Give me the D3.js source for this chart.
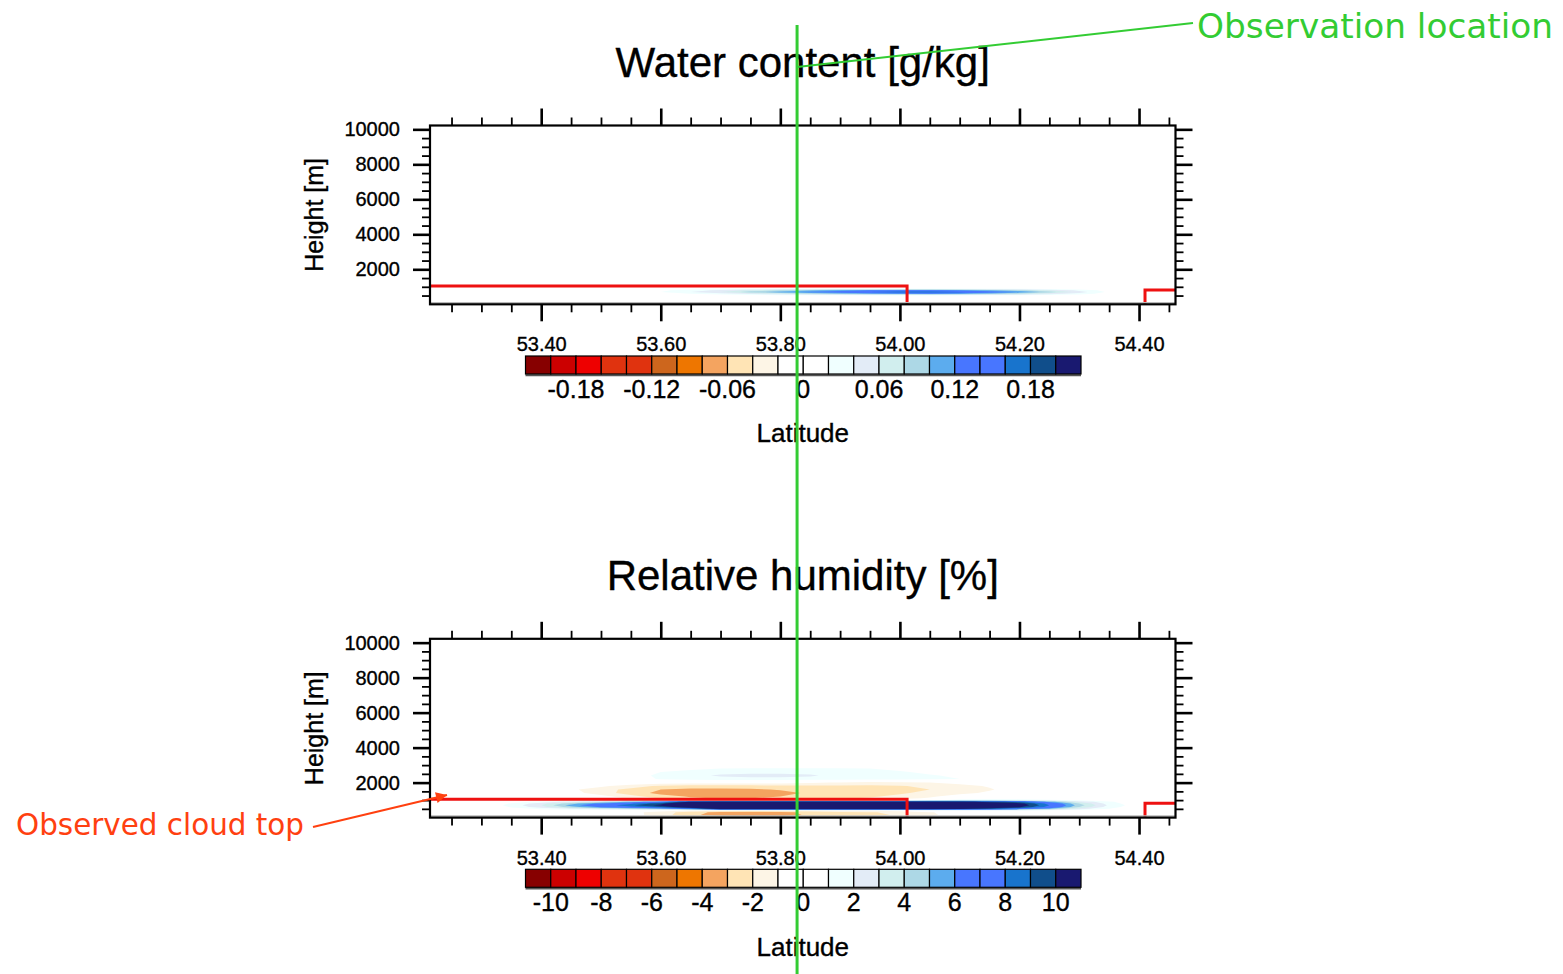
<!DOCTYPE html>
<html>
<head>
<meta charset="utf-8">
<script src="https://cdn.jsdelivr.net/npm/d3@7"></script>
<style>
body { margin: 0; background: #fff; }
svg text { font-family: "Liberation Sans", Arial, Helvetica, sans-serif; fill: #000; }
svg text.ink { stroke: #000; stroke-width: 0.35px; }
</style>
</head>
<body>
<svg id="chart"></svg>
<script>
// grid of the cross section: latitude columns, height rows (m)
const lats = [53.30, 53.35, 53.40, 53.45, 53.50, 53.55, 53.60, 53.65, 53.70, 53.75, 53.80, 53.85,
              53.90, 53.95, 54.00, 54.05, 54.10, 54.15, 54.20, 54.25, 54.30, 54.35, 54.40, 54.45];
const heights = [0, 150, 300, 400, 500, 600, 700, 800, 900, 1000, 1100, 1200,
                 1400, 1600, 1800, 2000, 2200, 2400, 2600, 2800, 3000];

// water content difference [g/kg], one row per height
const waterContent = [
  [0,0,0,0,0,0,0,0,0,0,0,0,0,0,0,0,0,0,0,0,0,0,0,0],
  [0,0,0,0,0,0,0,0,0,0,0,0,0,0,0,0,0,0,0,0,0,0,0,0],
  [0,0,0,0,0,0,0,0,0,0,0,0,0,0,0,0,0,0,0,0,0,0,0,0],
  [0,0,0,0,0,0,0,0,0,0,0,0,0,0,0,0,0,0,0,0,0,0,0,0],
  [0,0,0,0,0,0,0,0.002,0.004,0.006,0.008,0.01,0.012,0.014,0.015,0.015,0.014,0.012,0.01,0.006,0.004,0,0,0],
  [0,0,0,0,0,0,0.01,0.02,0.03,0.045,0.06,0.075,0.09,0.1,0.11,0.115,0.105,0.09,0.075,0.05,0.03,0.01,0,0],
  [0,0,0,0,0,0,0.02,0.04,0.06,0.09,0.11,0.125,0.14,0.16,0.175,0.175,0.165,0.14,0.12,0.09,0.05,0.015,0,0],
  [0,0,0,0,0,0,0.015,0.03,0.045,0.065,0.08,0.095,0.11,0.12,0.125,0.125,0.115,0.1,0.085,0.06,0.035,0.01,0,0],
  [0,0,0,0,0,0,0,0.003,0.005,0.007,0.009,0.011,0.013,0.014,0.015,0.015,0.014,0.012,0.01,0.007,0.004,0,0,0],
  [0,0,0,0,0,0,0,0,0,0,0,0,0,0,0,0,0,0,0,0,0,0,0,0],
  [0,0,0,0,0,0,0,0,0,0,0,0,0,0,0,0,0,0,0,0,0,0,0,0],
  [0,0,0,0,0,0,0,0,0,0,0,0,0,0,0,0,0,0,0,0,0,0,0,0],
  [0,0,0,0,0,0,0,0,0,0,0,0,0,0,0,0,0,0,0,0,0,0,0,0],
  [0,0,0,0,0,0,0,0,0,0,0,0,0,0,0,0,0,0,0,0,0,0,0,0],
  [0,0,0,0,0,0,0,0,0,0,0,0,0,0,0,0,0,0,0,0,0,0,0,0],
  [0,0,0,0,0,0,0,0,0,0,0,0,0,0,0,0,0,0,0,0,0,0,0,0],
  [0,0,0,0,0,0,0,0,0,0,0,0,0,0,0,0,0,0,0,0,0,0,0,0],
  [0,0,0,0,0,0,0,0,0,0,0,0,0,0,0,0,0,0,0,0,0,0,0,0],
  [0,0,0,0,0,0,0,0,0,0,0,0,0,0,0,0,0,0,0,0,0,0,0,0],
  [0,0,0,0,0,0,0,0,0,0,0,0,0,0,0,0,0,0,0,0,0,0,0,0],
  [0,0,0,0,0,0,0,0,0,0,0,0,0,0,0,0,0,0,0,0,0,0,0,0]
];

// relative humidity difference [%], one row per height
const relHumidity = [
  [0,0,0,0,0,-0.3,-0.8,-1.6,-2.2,-2.4,-2.4,-2.1,-1.8,-1.5,-1.1,-0.6,-0.2,0,0,0,0,0,0,0],
  [0,0,0,0,0,-0.6,-1.5,-2.8,-3.4,-3.6,-3.5,-2.8,-2.4,-2.2,-1.9,-1.2,-0.5,0,0,0,0,0,0,0],
  [0,0,0,0,-0.2,-0.7,-1.4,-2.6,-3.3,-3.4,-3.3,-2.7,-2.3,-2.1,-1.7,-1.1,-0.4,0,0,0,0,0,0,0],
  [0,0,0,0,0,-0.2,-0.5,-1.0,-1.4,-1.5,-1.4,-1.1,-0.9,-0.8,-0.6,-0.3,0,0.2,0.2,0.1,0,0,0,0],
  [0,0.5,1.2,2,2.8,3.5,4.5,7,11,11.5,11.5,11.5,11.5,11.5,11.5,11,10.5,9,7,5,2.5,1,0,0],
  [0,1.1,2.6,4.5,6.2,7.5,9,11.5,13,13,13,13,13,13,13,13,12.5,11.5,10.2,7.5,4,1.5,0.2,0],
  [0,1.4,3,5.5,7.2,8.8,10.4,12.5,14,14,14,14,14,14,14,14,13.5,12.5,11,8,4.5,1.8,0.3,0],
  [0,1.1,2.6,4.6,6.3,7.8,9.6,12,13,13,13,13,13,13,13,13,12.5,11.5,10.5,7.5,4,1.5,0.2,0],
  [0,0.5,1.3,2.5,3.8,5.2,7,10.2,11,11,11,11,11,11,11,11,10.5,9.5,8.5,5.5,2.8,1.2,0,0],
  [0,0,0.2,0.4,0.3,-0.3,-0.8,-1.2,-1.4,-1.4,-1.2,-1,-0.8,-0.6,-0.3,0.3,1.5,1.6,1.5,1.2,0.8,0.3,0,0],
  [0,0,0,0,-0.3,-1.2,-2.1,-2.8,-3.1,-3.0,-2.8,-2.4,-2.1,-1.9,-1.5,-0.8,0.4,0.6,0.6,0.4,0.2,0,0,0],
  [0,0,0,0,-0.6,-1.6,-2.6,-3.1,-3.3,-3.2,-3.0,-2.6,-2.3,-2.1,-1.8,-1.2,-0.4,0.3,0.3,0.2,0,0,0,0],
  [0,0,0,-0.6,-1.5,-2.5,-3.3,-3.8,-3.9,-3.8,-3.4,-2.8,-2.5,-2.3,-2.1,-1.8,-1.3,-0.8,-0.3,0,0,0,0,0],
  [0,0,0,-0.8,-1.6,-2.3,-3,-3.3,-3.3,-3.2,-2.9,-2.6,-2.4,-2.3,-2.2,-2.0,-1.6,-1.1,-0.5,0,0,0,0,0],
  [0,0,0,0,-0.8,-1.5,-2.2,-2.4,-2.4,-2.4,-2.3,-2.2,-2.2,-2.2,-2.1,-1.7,-1.3,-0.9,-0.4,0,0,0,0,0],
  [0,0,0,0,0,-0.2,-0.4,-0.5,-0.6,-0.6,-0.6,-0.8,-1.1,-1.4,-1.3,-1,-0.7,-0.4,0,0,0,0,0,0],
  [0,0,0,0,0,0.5,1.1,1.3,1.5,1.6,1.6,1.5,1.4,1.3,1.2,1.1,1.0,0.6,0.3,0,0,0,0,0],
  [0,0,0,0,0,0.6,1.2,1.6,2.2,2.4,2.4,2.2,1.5,1.3,1.2,1.1,0.8,0.4,0,0,0,0,0,0],
  [0,0,0,0,0,0.4,1,1.3,1.5,1.6,1.6,1.5,1.4,1.3,1.1,0.8,0.5,0,0,0,0,0,0,0],
  [0,0,0,0,0,0,0.4,0.8,1,1.1,1.1,1.1,1.1,1.0,0.8,0.5,0,0,0,0,0,0,0,0],
  [0,0,0,0,0,0,0,0,0,0,0,0,0,0,0,0,0,0,0,0,0,0,0,0]
];

// contour levels and label bar labels
const wcLevels = [-0.20,-0.18,-0.16,-0.14,-0.12,-0.10,-0.08,-0.06,-0.04,-0.02,0,
                  0.02,0.04,0.06,0.08,0.10,0.12,0.14,0.16,0.18,0.20];
const rhLevels = [-10,-9,-8,-7,-6,-5,-4,-3,-2,-1,0,1,2,3,4,5,6,7,8,9,10];
const wcTickLabels = ["-0.18", "-0.12", "-0.06", "0", "0.06", "0.12", "0.18"];
const rhTickLabels = ["-10", "-8", "-6", "-4", "-2", "0", "2", "4", "6", "8", "10"];
const levelColors = ["#870000", "#cc0000", "#ee0000", "#e0330f", "#e0330f", "#cd661d", "#ee7600",
                     "#f4a460", "#ffe4b5", "#fdf5e6", "#ffffff", "#ffffff", "#f0ffff", "#e3ecf7",
                     "#d1eeee", "#add8e6", "#5cacee", "#4876ff", "#4876ff", "#1874cd", "#104e8b", "#191970"];

// axis ticks
const latMajorTicks = [53.40, 53.60, 53.80, 54.00, 54.20, 54.40];
const latMinorTicks = [53.25, 53.30, 53.35, 53.45, 53.50, 53.55, 53.65, 53.70, 53.75, 53.85,
                       53.90, 53.95, 54.05, 54.10, 54.15, 54.25, 54.30, 54.35, 54.45];
const heightMajorTicks = [2000, 4000, 6000, 8000, 10000];
const heightMinorTicks = [500, 1000, 1500, 2500, 3000, 3500, 4500, 5000, 5500, 6500, 7000,
                          7500, 8500, 9000, 9500];

// observed cloud top (null = gap) and observation site
const cloudTopLat = [53.214, 54.012, 54.012, null, 54.41, 54.41, 54.461];
const cloudTopHeight = [1050, 1050, 0, null, 0, 820, 820];
const obsLat = 53.828;

const width = 1563;
const height = 974;
const plotHeight = 178.8;
const green = "#33cc33";
const orange = "#ff4010";

const svg = d3.select("#chart")
    .attr("width", width)
    .attr("height", height);

const defs = svg.append("defs");

const x = d3.scaleLinear()
    .domain([53.214, 54.461])
    .range([430, 1175.5]);

const plotLeft = x.range()[0];
const plotWidth = x.range()[1] - x.range()[0];
const plotCenter = plotLeft + plotWidth / 2;

// grid index -> latitude / height
const colIndex = d3.scaleLinear().domain(d3.range(lats.length)).range(lats);
const rowIndex = d3.scaleLinear().domain(d3.range(heights.length)).range(heights);

const panels = [
    { title: "Water content [g/kg]", values: waterContent, levels: wcLevels, labels: wcTickLabels, top: 125.5 },
    { title: "Relative humidity [%]", values: relHumidity, levels: rhLevels, labels: rhTickLabels, top: 638.8 }
];

function styleAxis(sel, width) {
    sel.select(".domain").remove();
    sel.selectAll("line").attr("stroke", "#000").attr("stroke-width", width);
    sel.attr("font-family", null).attr("font-size", null);
}

function drawPanel(p, i) {
    const top = p.top;
    const bottom = top + plotHeight;
    const y = d3.scaleLinear().domain([0, 10220]).range([bottom, top]);
    const g = svg.append("g");

    defs.append("clipPath")
        .attr("id", "clip" + i)
        .append("rect")
        .attr("x", plotLeft)
        .attr("y", top)
        .attr("width", plotWidth)
        .attr("height", plotHeight);

    // filled contours
    const field = g.append("g").attr("clip-path", "url(#clip" + i + ")");
    const flat = p.values.flat();
    const project = d3.geoTransform({
        point: function(px, py) {
            this.stream.point(x(colIndex(px - 0.5)), y(rowIndex(py - 0.5)));
        }
    });
    const path = d3.geoPath(project);
    const contours = d3.contours().size([lats.length, heights.length]);

    const negIdx = p.levels.map((l, k) => k).filter(k => p.levels[k] < 0).reverse();
    contours.thresholds(negIdx.map(k => -p.levels[k]))(flat.map(v => -v))
        .forEach((c, m) => {
            field.append("path")
                .attr("d", path(c))
                .attr("fill", levelColors[negIdx[m]]);
        });

    const posIdx = p.levels.map((l, k) => k).filter(k => p.levels[k] > 0);
    contours.thresholds(posIdx.map(k => p.levels[k]))(flat)
        .forEach((c, m) => {
            field.append("path")
                .attr("d", path(c))
                .attr("fill", levelColors[posIdx[m] + 1]);
        });

    // observed cloud top
    const cloudLine = d3.line()
        .defined(d => d[0] != null)
        .x(d => x(d[0]))
        .y(d => y(d[1]));
    field.append("path")
        .attr("d", cloudLine(cloudTopLat.map((l, k) => [l, cloudTopHeight[k]])))
        .attr("fill", "none")
        .attr("stroke", "#ee1111")
        .attr("stroke-width", 3);

    g.append("line")
        .attr("x1", plotLeft).attr("x2", plotLeft + plotWidth)
        .attr("y1", bottom - 1.6).attr("y2", bottom - 1.6)
        .attr("stroke", "#b8b8b8")
        .attr("stroke-width", 1.5);

    g.append("rect")
        .attr("x", plotLeft)
        .attr("y", top)
        .attr("width", plotWidth)
        .attr("height", plotHeight)
        .attr("fill", "none")
        .attr("stroke", "#000")
        .attr("stroke-width", 2.2);

    // ticks on all four sides
    g.append("g").attr("transform", "translate(0," + bottom + ")")
        .call(d3.axisBottom(x).tickValues(latMinorTicks).tickSize(8).tickFormat(""))
        .call(s => styleAxis(s, 1.8));
    g.append("g").attr("transform", "translate(0," + top + ")")
        .call(d3.axisTop(x).tickValues(latMinorTicks).tickSize(8).tickFormat(""))
        .call(s => styleAxis(s, 1.8));
    g.append("g").attr("transform", "translate(0," + top + ")")
        .call(d3.axisTop(x).tickValues(latMajorTicks).tickSize(17).tickFormat(""))
        .call(s => styleAxis(s, 2.6));
    const xAxis = g.append("g").attr("transform", "translate(0," + bottom + ")")
        .call(d3.axisBottom(x).tickValues(latMajorTicks).tickSize(17).tickPadding(16).tickFormat(d3.format(".2f")))
        .call(s => styleAxis(s, 2.6));
    xAxis.selectAll("text").attr("class", "ink").style("font-size", "20px");

    g.append("g").attr("transform", "translate(" + plotLeft + ",0)")
        .call(d3.axisLeft(y).tickValues(heightMinorTicks).tickSize(8).tickFormat(""))
        .call(s => styleAxis(s, 1.8));
    g.append("g").attr("transform", "translate(" + (plotLeft + plotWidth) + ",0)")
        .call(d3.axisRight(y).tickValues(heightMinorTicks).tickSize(8).tickFormat(""))
        .call(s => styleAxis(s, 1.8));
    g.append("g").attr("transform", "translate(" + (plotLeft + plotWidth) + ",0)")
        .call(d3.axisRight(y).tickValues(heightMajorTicks).tickSize(17).tickFormat(""))
        .call(s => styleAxis(s, 2.6));
    const yAxis = g.append("g").attr("transform", "translate(" + plotLeft + ",0)")
        .call(d3.axisLeft(y).tickValues(heightMajorTicks).tickSize(17).tickPadding(13).tickFormat(d3.format("d")))
        .call(s => styleAxis(s, 2.6));
    yAxis.selectAll("text").attr("class", "ink").style("font-size", "20px");

    // titles
    g.append("text")
        .attr("class", "ink")
        .attr("x", plotCenter)
        .attr("y", top - 48.5)
        .attr("text-anchor", "middle")
        .style("font-size", "42px")
        .text(p.title);

    g.append("text")
        .attr("class", "ink")
        .attr("transform", "translate(323," + (top + plotHeight / 2) + ") rotate(-90)")
        .attr("text-anchor", "middle")
        .style("font-size", "25px")
        .text("Height [m]");

    g.append("text")
        .attr("class", "ink")
        .attr("x", plotCenter)
        .attr("y", bottom + 138)
        .attr("text-anchor", "middle")
        .style("font-size", "26px")
        .text("Latitude");

    // label bar
    const cbTop = bottom + 51.7;
    const cbHeight = 18;
    const cb = d3.scaleBand()
        .domain(d3.range(levelColors.length))
        .range([525.5, 1081]);

    g.append("line")
        .attr("x1", cb.range()[0]).attr("x2", cb.range()[1])
        .attr("y1", cbTop + cbHeight + 1.2).attr("y2", cbTop + cbHeight + 1.2)
        .attr("stroke", "#555")
        .attr("stroke-width", 2);

    g.selectAll(".box")
        .data(levelColors)
        .enter()
        .append("rect")
        .attr("class", "box")
        .attr("x", (d, k) => cb(k))
        .attr("y", cbTop)
        .attr("width", cb.bandwidth())
        .attr("height", cbHeight)
        .attr("fill", d => d)
        .attr("stroke", "#000")
        .attr("stroke-width", 1.2);

    g.selectAll(".cblabel")
        .data(p.labels)
        .enter()
        .append("text")
        .attr("class", "cblabel ink")
        .attr("x", d => cb(p.levels.findIndex(l => Math.abs(l - (+d)) < 1e-9) + 1))
        .attr("y", cbTop + 42)
        .attr("text-anchor", "middle")
        .style("font-size", "25px")
        .text(d => d);
}

panels.forEach(drawPanel);

// annotations
const note = svg.append("g");

note.append("line")
    .attr("x1", x(obsLat)).attr("x2", x(obsLat))
    .attr("y1", 25).attr("y2", height)
    .attr("stroke", green)
    .attr("stroke-width", 3);

note.append("line")
    .attr("x1", x(obsLat)).attr("y1", 67)
    .attr("x2", 1193).attr("y2", 23)
    .attr("stroke", green)
    .attr("stroke-width", 2);

note.append("text")
    .attr("x", 1197)
    .attr("y", 38)
    .attr("textLength", 356)
    .attr("lengthAdjust", "spacingAndGlyphs")
    .style("font-family", "'DejaVu Sans', sans-serif")
    .style("font-size", "33px")
    .style("fill", green)
    .text("Observation location");

defs.append("marker")
    .attr("id", "arrowhead")
    .attr("viewBox", "0 0 10 10")
    .attr("refX", 10)
    .attr("refY", 5)
    .attr("markerUnits", "userSpaceOnUse")
    .attr("markerWidth", 15)
    .attr("markerHeight", 11)
    .attr("orient", "auto")
    .append("path")
    .attr("d", "M0,0L10,5L0,10Z")
    .attr("fill", orange);

note.append("line")
    .attr("x1", 313).attr("y1", 827)
    .attr("x2", 447).attr("y2", 795)
    .attr("stroke", orange)
    .attr("stroke-width", 2)
    .attr("marker-end", "url(#arrowhead)");

note.append("text")
    .attr("x", 16)
    .attr("y", 835)
    .attr("textLength", 288)
    .attr("lengthAdjust", "spacingAndGlyphs")
    .style("font-family", "'DejaVu Sans', sans-serif")
    .style("font-size", "30px")
    .style("fill", orange)
    .text("Observed cloud top");
</script>
</body>
</html>
